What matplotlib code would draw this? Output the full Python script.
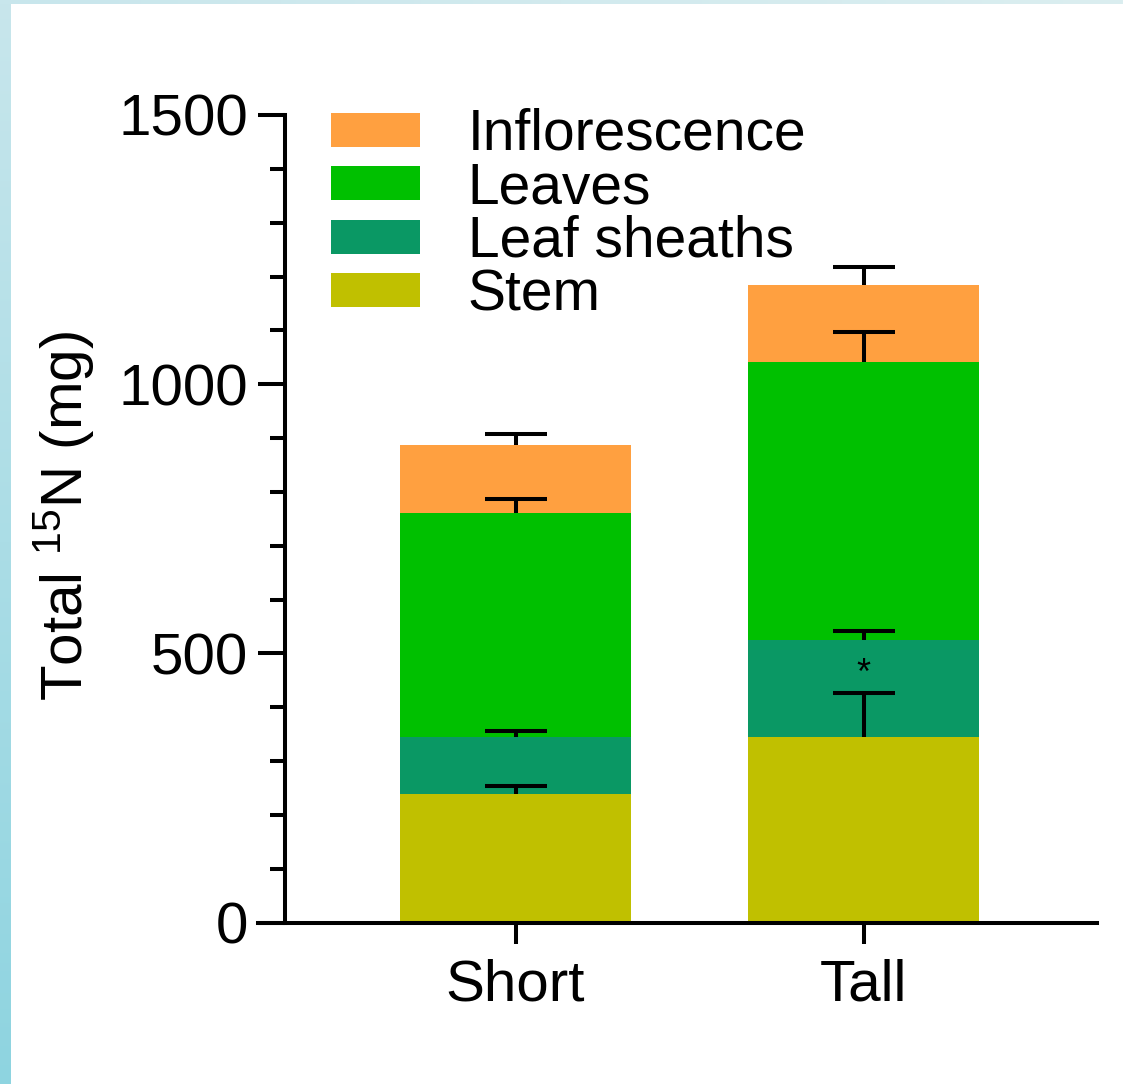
import numpy as np
import matplotlib
matplotlib.use("Agg")
import matplotlib.pyplot as plt
from matplotlib.ticker import MultipleLocator, FixedLocator

plt.rcParams['font.family'] = ['Liberation Sans', 'DejaVu Sans']
plt.rcParams['mathtext.default'] = 'regular'

# ---- data ----
groups = ['Short', 'Tall']
segments = ['Stem', 'Leaf sheaths', 'Leaves', 'Inflorescence']
stem = [239, 344]
stem_err = [15, 82]
sheaths = [106, 181]
sheaths_err = [10, 16]
leaves = [416, 516]
leaves_err = [26, 55]
inflor = [126, 143]
inflor_err = [21, 34]
sheath_sig = ['', '*']
yticks_major = [0, 500, 1000, 1500]

colors = ['#C0C000', '#0A9864', '#00C000', '#FFA040']

W, H = 1123, 1084
fig = plt.figure(figsize=(W / 100, H / 100), dpi=100)

# background frame (light blue gradient border)
bg = fig.add_axes([0, 0, 1, 1], zorder=-10)
img = np.ones((H, W, 3))
top_c = np.array([200, 230, 236]) / 255
bot_c = np.array([142, 212, 224]) / 255
right_c = np.array([219, 238, 240]) / 255
t = np.linspace(0, 1, H)[:, None]
img[:, :11, :] = (top_c * (1 - t) + bot_c * t)[:, None, :]
s = np.linspace(0, 1, W)[:, None]
img[:4, :, :] = (top_c * (1 - s) + right_c * s)[None, :, :]
bg.imshow(img, aspect='auto', interpolation='nearest')
bg.axis('off')

# main axes
L, R = 258 / W, 1097 / W
B, T = (H - 922.5) / H, (H - 115) / H
ax = fig.add_axes([L, B, R - L, T - B])
ax.set_facecolor('none')

x = np.arange(len(groups))
bw = 231 / 348
vals = [stem, sheaths, leaves, inflor]
errs = [stem_err, sheaths_err, leaves_err, inflor_err]
bottom = np.zeros(len(groups))
bars = []
tops = []
for v, c, name in zip(vals, colors, segments):
    b = ax.bar(x, v, bw, bottom=bottom, color=c, label=name, zorder=2, linewidth=0)
    bars.append(b)
    bottom = bottom + np.array(v)
    tops.append(bottom.copy())

lw = 2.9
for tp, e in zip(tops, errs):
    _, caps, _ = ax.errorbar(x, tp, yerr=[np.zeros(len(e)), e], fmt='none',
                             ecolor='black', elinewidth=lw, capsize=22,
                             capthick=lw, zorder=5)
    caps[0].set_visible(False)  # upward-only error bars

# significance markers on leaf sheaths
for i, sig in enumerate(sheath_sig):
    if sig:
        ax.annotate(sig, (x[i], tops[0][i] + stem_err[i]), xytext=(0, 1),
                    textcoords='offset points', ha='center', va='bottom',
                    fontsize=26, zorder=6)

ax.set_xlim(-(515.5 - 258) / 348, 1 + (1097 - 863.5) / 348)
ax.set_ylim(0, 1500)

for sp in ['top', 'right']:
    ax.spines[sp].set_visible(False)
ax.spines['left'].set_position(('axes', 27 / 839))
ax.spines['left'].set_linewidth(lw)
ax.spines['bottom'].set_linewidth(lw)
ax.spines['left'].set_capstyle('projecting')

ax.yaxis.set_major_locator(FixedLocator(yticks_major))
ax.yaxis.set_minor_locator(MultipleLocator(100))
ax.tick_params(axis='y', which='major', length=19.4, width=lw, labelsize=42, pad=7)
ax.tick_params(axis='y', which='minor', length=10.8, width=lw)
ax.set_xticks(x)
ax.set_xticklabels(groups)
ax.tick_params(axis='x', which='major', length=15, width=lw, labelsize=42, pad=11)

fig.text(64 / W, 1 - 516 / H, 'Total $^{15}$N (mg)', rotation=90, ha='center',
         va='center', fontsize=42)

handles = bars[::-1]
labels = segments[::-1]
leg = ax.legend(handles, labels, loc='upper left',
                bbox_to_anchor=(331 / W, 1 - 108 / H), bbox_transform=fig.transFigure,
                frameon=False, fontsize=41, borderpad=0, borderaxespad=0,
                handlelength=1.56, handleheight=0.54, handletextpad=0.84,
                labelspacing=-0.01)

fig.savefig('out.png', dpi=100)
